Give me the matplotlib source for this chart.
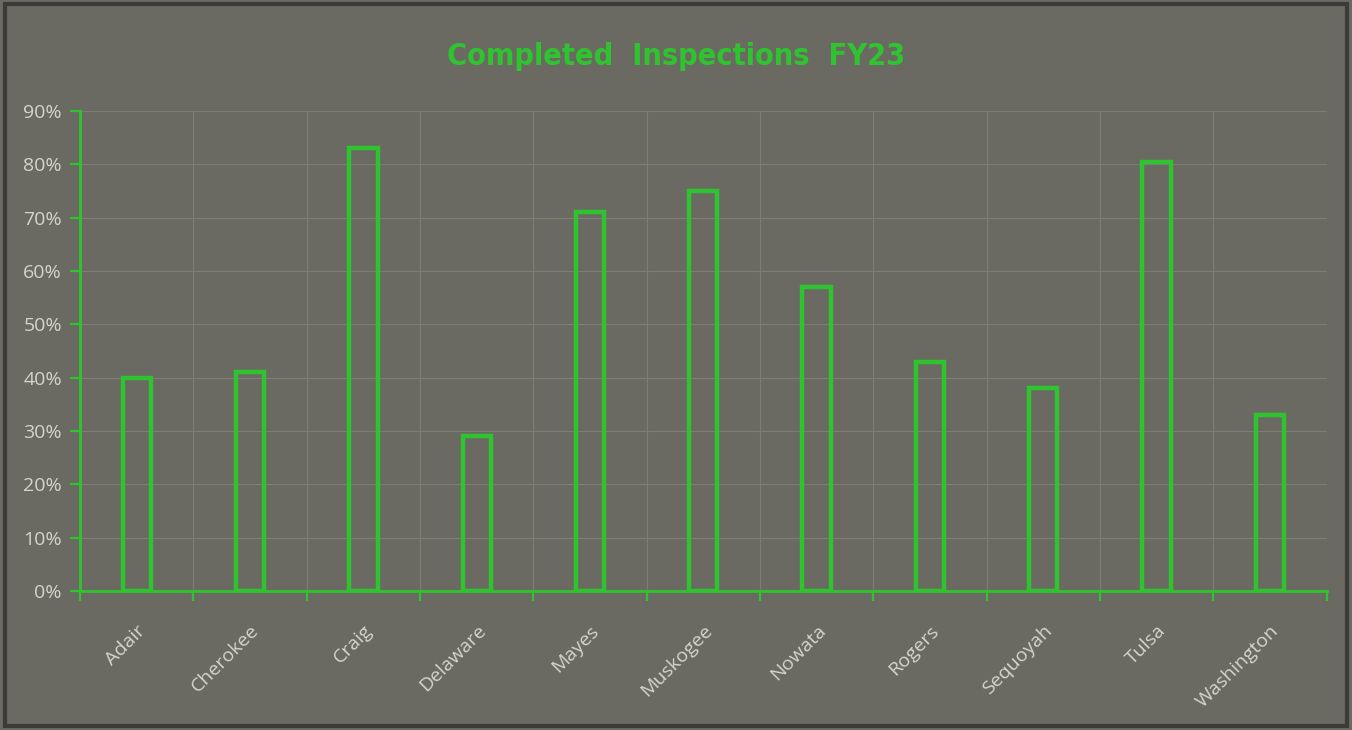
import numpy as np
from matplotlib import pyplot as plt
from matplotlib.patches import Rectangle
from matplotlib.ticker import FuncFormatter, MultipleLocator

counties = ["Adair", "Cherokee", "Craig", "Delaware", "Mayes", "Muskogee",
            "Nowata", "Rogers", "Sequoyah", "Tulsa", "Washington"]
completed = [0.40, 0.41, 0.83, 0.29, 0.71, 0.75, 0.57, 0.43, 0.38, 0.805, 0.33]

green = "#2fc42f"
bg = "#6a6a62"
label_col = "#d4d4ca"
grid_col = "#7d7d75"

fig = plt.figure(figsize=(13.52, 7.30), dpi=100, facecolor=bg)
ax = fig.add_axes([0.0592, 0.1904, 0.922, 0.6576])
ax.set_facecolor(bg)

x = np.arange(len(counties))
ax.bar(x, completed, width=0.25, fill=False, edgecolor=green, linewidth=3.2, zorder=3)

ax.set_xlim(-0.5, len(counties) - 0.5)
ax.set_ylim(0, 0.9)
ax.yaxis.set_major_locator(MultipleLocator(0.1))
ax.yaxis.set_major_formatter(FuncFormatter(lambda v, p: "{:.0f}%".format(v * 100)))

ax.set_xticks(x)
ax.set_xticklabels(counties, rotation=45, ha="right", va="top", rotation_mode="anchor",
                   fontsize=14, color=label_col, family="Open Sans")
ax.set_xticks(np.arange(-0.5, len(counties), 1.0), minor=True)
ax.tick_params(axis="x", which="major", length=0, pad=22)
ax.tick_params(axis="x", which="minor", length=7, width=1.6, color=green, direction="out")
ax.tick_params(axis="y", length=7, width=1.6, color=green, labelcolor=label_col,
               labelsize=14, pad=6)
for lab in ax.get_yticklabels():
    lab.set_family("Open Sans")

ax.grid(True, axis="y", color=grid_col, linewidth=0.8, zorder=0)
ax.grid(True, axis="x", which="minor", color=grid_col, linewidth=0.8, zorder=0)

for side in ["top", "right"]:
    ax.spines[side].set_visible(False)
for side in ["left", "bottom"]:
    ax.spines[side].set_color(green)
    ax.spines[side].set_linewidth(2.0)

fig.text(0.50, 0.922, "Completed  Inspections  FY23", ha="center", va="center",
         color=green, fontsize=22, fontweight="bold", family="DejaVu Sans",
         fontstretch="condensed")

# dark frame around the chart area
fig.patches.append(Rectangle((0.004, 0.006), 0.992, 0.988, transform=fig.transFigure,
                             fill=False, edgecolor="#3a3a36", linewidth=3))

fig.savefig("out.png", dpi=100, facecolor=bg)
